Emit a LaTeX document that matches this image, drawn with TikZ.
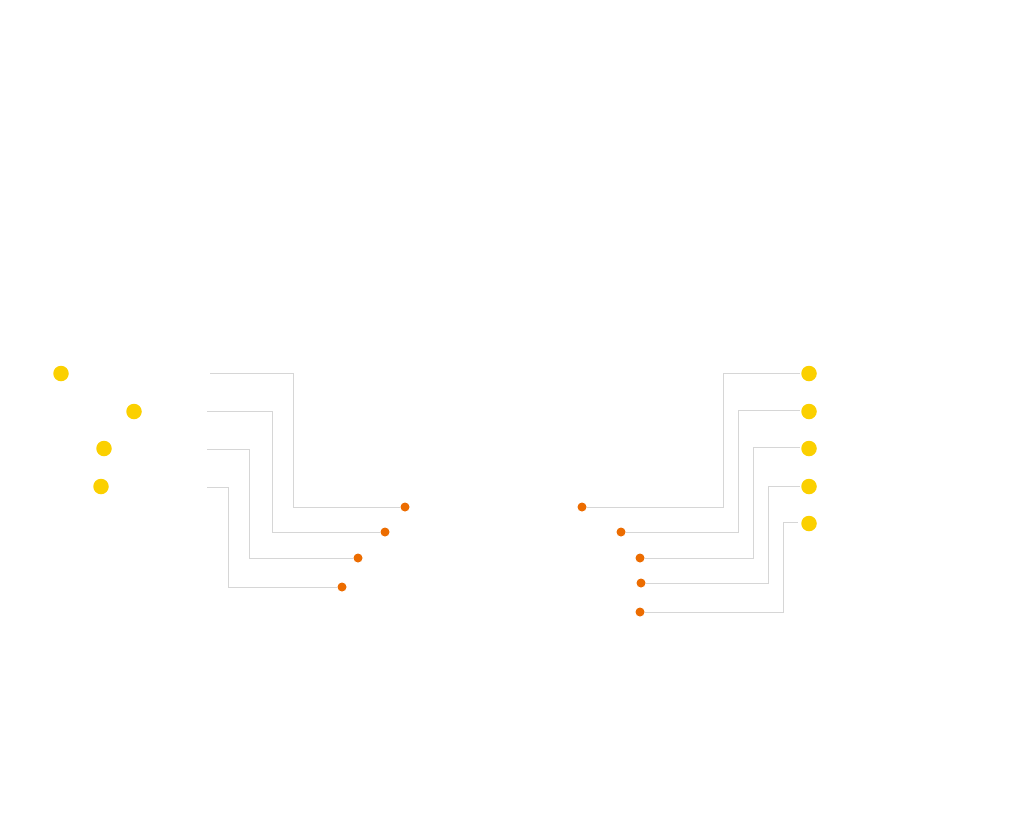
\documentclass[tikz,border=0pt]{standalone}
\begin{document}
\begin{tikzpicture}[x=1pt,y=-1pt,
  ydot/.style={circle,fill={rgb,255:red,251;green,208;blue,0},inner sep=0pt,minimum size=15.5pt},
  odot/.style={circle,fill={rgb,255:red,236;green,108;blue,0},inner sep=0pt,minimum size=9pt},
  wire/.style={draw={rgb,255:red,214;green,214;blue,214},line width=0.9pt}]
\useasboundingbox[fill=white] (0,0) rectangle (1024,836);
% left yellow dots
\node[ydot] (ly1) at (61,373.5) {};
\node[ydot] (ly2) at (134,411.5) {};
\node[ydot] (ly3) at (104,448.5) {};
\node[ydot] (ly4) at (101,486.5) {};
% left orange dots
\node[odot] (lo1) at (405,507) {};
\node[odot] (lo2) at (385,532) {};
\node[odot] (lo3) at (358,558) {};
\node[odot] (lo4) at (342,587) {};
% left free ends
\coordinate (ls1) at (210,373);
\coordinate (ls2) at (207,411);
\coordinate (ls3) at (207,449);
\coordinate (ls4) at (207,487);
\draw[wire] (ls1) -- (293,373) -- (293,507) -- (lo1);
\draw[wire] (ls2) -- (272,411) -- (272,532) -- (lo2);
\draw[wire] (ls3) -- (249,449) -- (249,558) -- (lo3);
\draw[wire] (ls4) -- (228,487) -- (228,587) -- (lo4);
% right yellow dots
\node[ydot] (ry1) at (809,373.5) {};
\node[ydot] (ry2) at (809,411.5) {};
\node[ydot] (ry3) at (809,448.5) {};
\node[ydot] (ry4) at (809,486.5) {};
\node[ydot] (ry5) at (809,523.5) {};
% right orange dots
\node[odot] (ro1) at (582,507) {};
\node[odot] (ro2) at (621,532) {};
\node[odot] (ro3) at (640,558) {};
\node[odot] (ro4) at (641,583) {};
\node[odot] (ro5) at (640,612) {};
\coordinate (re1) at (800,373);
\coordinate (re2) at (800,410);
\coordinate (re3) at (800,447);
\coordinate (re4) at (800,486);
\coordinate (re5) at (798,522);
\draw[wire] (ro1) -- (723,507) -- (723,373) -- (re1);
\draw[wire] (ro2) -- (738,532) -- (738,410) -- (re2);
\draw[wire] (ro3) -- (753,558) -- (753,447) -- (re3);
\draw[wire] (ro4) -- (768,583) -- (768,486) -- (re4);
\draw[wire] (ro5) -- (783,612) -- (783,522) -- (re5);
\end{tikzpicture}
\end{document}
